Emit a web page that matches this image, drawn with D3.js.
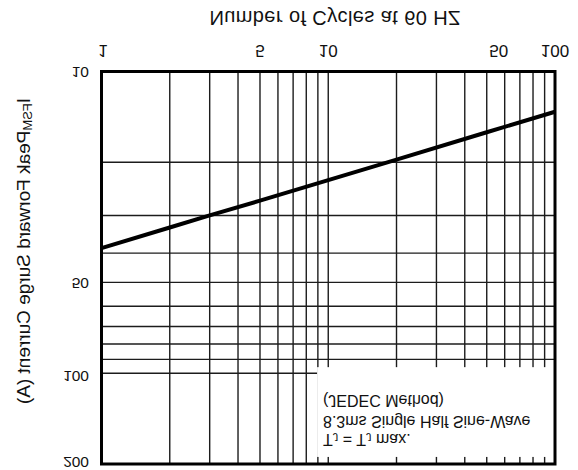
<!DOCTYPE html>
<html><head><meta charset="utf-8">
<script src="https://cdn.jsdelivr.net/npm/d3@7"></script>
<style>
body{margin:0;background:#fff}
svg{display:block}
text{font-family:"Liberation Sans",Arial,Helvetica,sans-serif;fill:#111}
</style>
</head><body>
<svg id="chart" width="578" height="470"></svg>
<script>
// ---- data ----
const cycles       = [1, 2, 3, 5, 10, 20, 50, 100];
const surgeCurrent = [38.5, 32.9, 30.0, 26.8, 22.9, 19.6, 15.9, 13.6];
const xTickValues  = [1, 5, 10, 50, 100];
const xTickLabels  = ["1", "5", "10", "50", "100"];
const yTickValues  = [10, 50, 100, 200];
const yTickLabels  = ["10", "50", "100", "200"];
const xGridValues  = [2, 3, 4, 5, 6, 7, 8, 9, 10, 20, 30, 40, 50, 60, 70, 80, 90];
const yGridValues  = [20, 30, 40, 50, 60, 70, 80, 90, 100];
const xTitle = "Number of Cycles at 60 HZ";
const yTitleMain = "I", yTitleSub = "FSM", yTitleRest = "Peak Forward Surge Current (A)";
const noteLine1 = "(JEDEC Method)";
const noteLine2 = "8.3ms Single Half Sine-Wave";

// The reference image is mirrored top-to-bottom; text is flipped locally.
const svg = d3.select("#chart");
const x = d3.scaleLog().domain([1, 100]).range([101.5, 555]);
const y = d3.scaleLog().domain([10, 200]).range([71.5, 464]);
const [x0, x1] = x.range(), [y0, y1] = y.range();

const gridColor = "#1c1c1c";
const g = svg.append("g");

// vertical grid
g.selectAll("line.vg").data(xGridValues).join("line")
  .attr("x1", d => x(d)).attr("x2", d => x(d))
  .attr("y1", y0).attr("y2", y1)
  .attr("stroke", gridColor).attr("stroke-width", 1.4);
// horizontal grid
g.selectAll("line.hg").data(yGridValues).join("line")
  .attr("x1", x0).attr("x2", x1)
  .attr("y1", d => y(d)).attr("y2", d => y(d))
  .attr("stroke", gridColor).attr("stroke-width", 1.4);

// white note box covering the grid
const boxC = [8.93, 100], boxI = [95.5, 189.5];
g.append("rect")
  .attr("x", x(boxC[0])).attr("y", y(boxI[0]))
  .attr("width", x(boxC[1]) - x(boxC[0]))
  .attr("height", y(boxI[1]) - y(boxI[0]))
  .attr("fill", "#fff");

// curve
const pts = cycles.map((c, i) => [c, surgeCurrent[i]]);
g.append("path").datum(pts)
  .attr("d", d3.line().x(d => x(d[0])).y(d => y(d[1])))
  .attr("fill", "none").attr("stroke", "#000").attr("stroke-width", 4);

// frame
g.append("rect").attr("x", x0).attr("y", y0)
  .attr("width", x1 - x0).attr("height", y1 - y0)
  .attr("fill", "none").attr("stroke", "#000").attr("stroke-width", 3);

// flipped text helper
function ftext(px, py, size, anchor, extra) {
  return g.append("text")
    .attr("transform", `translate(${px},${py}) scale(1,-1)` + (extra || ""))
    .attr("text-anchor", anchor || "middle")
    .attr("dominant-baseline", "central")
    .attr("font-size", size);
}

// x tick labels (above the plot)
const xLabelShift = {"50": 12, "1": 1.5};
xTickValues.forEach((v, i) => {
  ftext(x(v) + (xLabelShift[xTickLabels[i]] || 0), 50, 17, "middle").text(xTickLabels[i]);
});
// y tick labels
yTickValues.forEach((v, i) => {
  ftext(89, Math.min(y(v), 461) + (v === 100 ? 3 : 1), 15.5, "end").text(yTickLabels[i]);
});

// x title
ftext(335, 18, 20, "middle").attr("letter-spacing", 0.4).text(xTitle);

// y title (rotated)
const yt = ftext(23, 251, 19, "middle", " rotate(-90)");
yt.append("tspan").text(yTitleMain);
yt.append("tspan").attr("font-size", 13).attr("dy", 4).text(yTitleSub);
yt.append("tspan").attr("dy", -4).text(yTitleRest);

// notes
ftext(323, 400, 16, "start").text(noteLine1);
ftext(323, 421, 16, "start").text(noteLine2);
const tj = ftext(323, 440, 16, "start");
tj.append("tspan").text("T");
tj.append("tspan").attr("font-size", 11).attr("dy", 3).text("J");
tj.append("tspan").attr("dy", -3).text(" = T");
tj.append("tspan").attr("font-size", 11).attr("dy", 3).text("J");
tj.append("tspan").attr("dy", -3).text(" max.");
</script>
</body></html>
